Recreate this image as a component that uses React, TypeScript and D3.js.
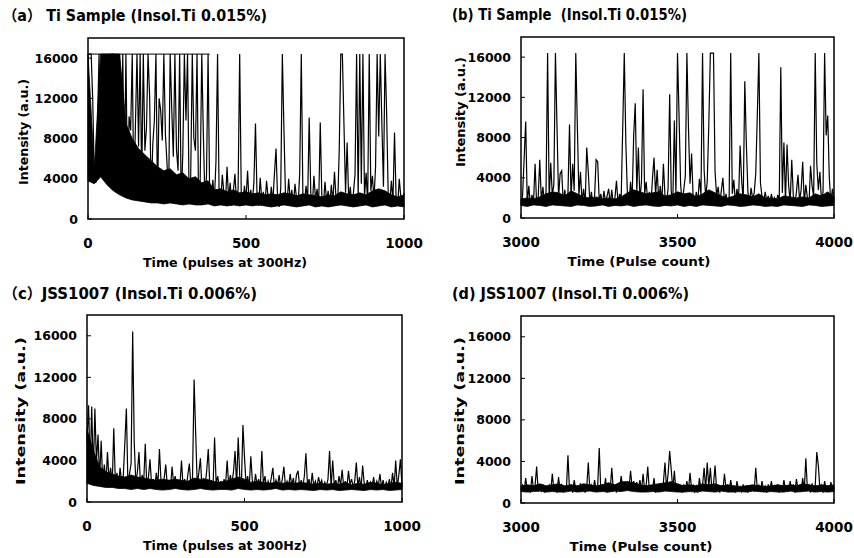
import React from "react";
import * as d3 from "d3";

// ---------- data (intensity, a.u.) sampled every 5 pulses ----------
const STEP = 5;
const aStart = 0;
const aValues = [
  16400, 16400, 16400, 11800, 4200, 3600, 9400, 16400, 5600, 16400, 4800, 16400, 3800, 16400, 5200, 16400, 16400, 2900, 16400, 3400,
  16400, 2700, 16400, 3900, 16400, 2500, 10200, 8800, 16400, 2200, 9200, 16400, 7200, 16400, 3600, 16400, 6800, 9000, 16400, 12200,
  2000, 7400, 9800, 16400, 1800, 12000, 10800, 7800, 16400, 8400, 5600, 1700, 16400, 11000, 6200, 16400, 6900, 4800, 16400, 1600,
  6500, 16400, 9800, 16400, 1900, 4200, 16400, 8000, 6800, 16400, 1600, 3800, 16400, 8500, 1900, 4300, 16400, 2400, 1500, 3900,
  1800, 5800, 16400, 2100, 1400, 4400, 2600, 1500, 5200, 2000, 3600, 1300, 2800, 4500, 1600, 3000, 16400, 2400, 1400, 3300,
  1900, 4800, 1500, 2900, 1700, 3600, 9500, 2200, 1300, 4100, 1800, 2700, 1400, 3800, 2100, 1300, 3200, 1700, 4500, 7000,
  2000, 1200, 3100, 16400, 9000, 2300, 1500, 4000, 1800, 2900, 1300, 3500, 2000, 1400, 4600, 16400, 2300, 1500, 3300, 1800,
  10100, 2600, 1400, 4300, 1900, 3000, 1300, 9600, 2200, 1500, 3700, 1800, 2800, 1200, 3400, 1700, 4700, 2000, 1400, 6800,
  16400, 16400, 9400, 2600, 7600, 1800, 3200, 1300, 2600, 4400, 16400, 2100, 16400, 3500, 16400, 2200, 4600, 1600, 16400, 2800,
  4300, 1900, 5200, 16400, 8200, 16400, 9400, 3200, 16400, 10600, 2400, 1500, 3800, 1700, 8600, 2100, 1300, 4000, 2200, 1400, 2600,
];
const bStart = 3000;
const bValues = [
  1300, 2200, 5900, 9600, 1400, 3200, 1200, 2300, 1500, 5400, 1300, 2100, 5800, 1700, 3100, 1400, 2600, 16400, 1800, 5500,
  2300, 3300, 16400, 9100, 2000, 4400, 4700, 1500, 2800, 1200, 2400, 9300, 2000, 5400, 2700, 16400, 9200, 2200, 4600, 1600,
  2900, 1300, 7000, 4600, 1500, 2600, 1200, 2100, 5800, 5600, 1700, 2400, 1300, 2700, 1500, 2200, 2900, 1400, 2800, 1300,
  2000, 3700, 1500, 2400, 1900, 9000, 16400, 7400, 2300, 1400, 3600, 1800, 8200, 11400, 2600, 7000, 1600, 3700, 12800, 2400,
  3600, 1500, 2600, 1300, 3900, 6000, 2300, 4800, 1700, 3200, 1500, 5400, 2200, 1300, 3000, 12300, 2600, 1500, 9700, 2300,
  16400, 10100, 3300, 1500, 2800, 4200, 16400, 9000, 3400, 6400, 2000, 1400, 2600, 1600, 3900, 2300, 16400, 4800, 2100, 3600,
  9300, 16400, 16400, 16400, 4600, 2200, 3100, 1500, 2700, 4000, 1600, 2400, 1300, 2000, 16400, 2400, 3800, 1500, 2900, 1700,
  7200, 3700, 1800, 13600, 7300, 2600, 1400, 3000, 1900, 2500, 4400, 10300, 16400, 3500, 2100, 1400, 2600, 1700, 2200, 1300,
  2400, 1600, 2000, 1200, 2300, 1800, 15000, 2500, 7500, 1600, 7300, 3300, 1500, 5800, 2200, 1400, 2600, 4300, 1700, 2800,
  5600, 1500, 3300, 2000, 1300, 5200, 3200, 2100, 16400, 5400, 2800, 4600, 1600, 2600, 16400, 8200, 10200, 4000, 1500, 2900, 1800,
];
const cStart = 0;
const cValues = [
  5800, 9300, 3200, 9200, 2600, 9000, 3800, 6500, 2200, 5900, 1900, 3600, 1700, 4800, 2100, 3300, 1600, 7100, 1800, 2800,
  1500, 3300, 1900, 2400, 5600, 9000, 1600, 2700, 3700, 16400, 5700, 1800, 2900, 4800, 1500, 2600, 1900, 5600, 1400, 2400,
  4100, 1700, 2200, 1300, 2800, 1600, 5100, 1900, 1400, 2300, 3600, 1500, 2100, 1300, 3400, 1800, 2500, 1400, 2000, 1600,
  4000, 1500, 2200, 1300, 2600, 3700, 1500, 2400, 11800, 6600, 1700, 2800, 4200, 1400, 2300, 1600, 3000, 5100, 1500, 2100,
  1300, 6200, 1800, 2500, 1400, 2000, 1300, 2200, 1700, 4000, 1500, 2600, 1800, 2900, 4900, 1600, 6200, 2400, 1500, 7400,
  4300, 1700, 2500, 1400, 4400, 2000, 1300, 2700, 1600, 2200, 1400, 4900, 1700, 2500, 1300, 2000, 1500, 2300, 3300, 1400,
  2100, 1600, 2600, 1300, 2200, 3400, 1500, 2000, 1400, 2700, 1600, 2300, 1300, 2600, 3000, 1500, 2100, 1400, 2500, 4700,
  1600, 2200, 1300, 2800, 1500, 2000, 1400, 2400, 1700, 2100, 1300, 1900, 1500, 2200, 4900, 1400, 4000, 1600, 2100, 1300,
  2500, 1600, 3100, 1400, 2000, 1300, 3000, 1700, 2200, 1400, 2000, 3800, 1500, 2400, 1300, 3500, 1800, 1400, 2100, 1300,
  1900, 1500, 2400, 1300, 2000, 1600, 2700, 1400, 2100, 1300, 1900, 1500, 2200, 1300, 2800, 1500, 4000, 1400, 2600, 4100, 1500,
];
const dStart = 3000;
const dValues = [
  1300, 1700, 1100, 2400, 1200, 1600, 1000, 2600, 1300, 1700, 3500, 1100, 1600, 1200, 1800, 1000, 1500, 1200, 1700, 1100,
  2800, 1300, 1600, 1000, 2500, 1200, 1700, 1100, 1500, 1300, 4600, 1200, 1800, 1000, 2200, 1300, 1600, 1100, 1900, 1200,
  1700, 1000, 1500, 3900, 1200, 1700, 1100, 2200, 1300, 1600, 5300, 1100, 1800, 1200, 2400, 1000, 1700, 1300, 3400, 1200,
  1500, 1000, 1800, 1300, 2600, 1500, 2000, 1300, 2100, 1400, 3100, 1500, 2100, 1300, 2000, 1400, 2200, 1200, 2800, 1300,
  1700, 3500, 1100, 1600, 1200, 2400, 1000, 1700, 1300, 1900, 1100, 2000, 3900, 1400, 2800, 5000, 3200, 1300, 3100, 1100,
  1700, 1200, 1500, 1000, 1800, 1300, 2100, 1200, 2900, 1400, 1700, 1100, 1600, 1000, 2400, 1200, 1700, 3400, 1300, 3900,
  1500, 3400, 1200, 1800, 3600, 1300, 1600, 1000, 1700, 1200, 2800, 1400, 1700, 1100, 2200, 1300, 1600, 1000, 2100, 1200,
  1500, 1100, 1800, 1300, 1600, 1000, 1700, 1200, 1500, 1100, 3400, 1300, 1700, 1100, 2100, 1200, 1600, 1000, 1800, 1300,
  2100, 1100, 1600, 1300, 1800, 1000, 1700, 1200, 2200, 1300, 1600, 1100, 2100, 1200, 1800, 1000, 2300, 1300, 1600, 1100,
  2400, 1200, 4300, 1300, 1700, 1000, 1900, 1200, 1600, 4900, 3600, 1300, 1700, 1000, 2100, 1200, 1600, 1100, 2000, 1300, 1600,
];

// ---------- dense-noise band of each trace: lower and upper edge, every 20 pulses ----------
const ENV_STEP = 20;
const aBandLow = [
  3800, 3500, 4200, 3400, 2800, 2400, 2100, 1900, 1800, 1700, 1600, 1600, 1500, 1600, 1500, 1400, 1500, 1400, 1400, 1500,
  1300, 1400, 1300, 1400, 1300, 1400, 1300, 1400, 1300, 1200, 1300, 1400, 1300, 1200, 1300, 1400, 1200, 1300, 1200, 1300,
  1400, 1300, 1200, 1300, 1400, 1200, 1300, 1400, 1200, 1300, 1200,
];
const aBandHigh = [
  16400, 5000, 16400, 16400, 16400, 16400, 9500, 8000, 7000, 6400, 5800, 5200, 4800, 5000, 4400, 4600, 4000, 4200, 3600, 3800,
  2900, 3000, 2700, 2900, 2600, 2700, 2500, 2600, 2400, 2500, 2400, 2600, 2500, 2300, 2500, 2400, 2300, 2200, 2400, 2300,
  2700, 2500, 2400, 2600, 2400, 2800, 3000, 2800, 2400, 2200, 2400,
];
const bBandLow = [
  1250, 1150, 1300, 1250, 1150, 1300, 1250, 1200, 1150, 1300, 1250, 1150, 1200, 1300, 1150, 1250, 1200, 1300, 1150, 1250,
  1300, 1200, 1150, 1250, 1200, 1300, 1150, 1250, 1150, 1300, 1250, 1200, 1150, 1300, 1250, 1150, 1200, 1300, 1250, 1150,
  1200, 1150, 1300, 1250, 1200, 1150, 1300, 1250, 1150, 1200, 1250,
];
const bBandHigh = [
  1900, 2000, 1900, 2100, 2400, 2600, 2500, 2200, 2700, 2400, 2100, 2000, 2100, 1900, 2000, 1900, 2100, 2500, 2800, 2600,
  2400, 2500, 2600, 2200, 2300, 2600, 2400, 2500, 2100, 2400, 2800, 2500, 2200, 2000, 2200, 2400, 2300, 2100, 2400, 2000,
  2000, 1900, 2200, 2100, 2000, 2100, 2000, 2400, 2200, 2600, 2100,
];
const cBandLow = [
  1800, 1600, 1500, 1400, 1400, 1300, 1300, 1200, 1300, 1200, 1300, 1200, 1150, 1200, 1300, 1200, 1150, 1200, 1300, 1200,
  1150, 1200, 1200, 1150, 1300, 1200, 1150, 1200, 1150, 1200, 1300, 1150, 1200, 1150, 1200, 1150, 1100, 1200, 1150, 1200,
  1100, 1150, 1200, 1150, 1100, 1200, 1150, 1200, 1100, 1150, 1200,
];
const cBandHigh = [
  7000, 5000, 3400, 2900, 2700, 2500, 2400, 2600, 2400, 2300, 2200, 2100, 2200, 2100, 2200, 2100, 2000, 2300, 2200, 2200,
  2000, 1900, 2000, 2200, 2400, 2200, 1900, 2000, 1900, 1800, 1900, 1800, 1900, 1800, 1900, 1800, 1700, 1800, 1700, 1800,
  1700, 1900, 1650, 1800, 1700, 1900, 1800, 1650, 1800, 1900, 1800,
];
const dBandLow = [
  1100, 1050, 1100, 1150, 1050, 1100, 1050, 1050, 1150, 1050, 1100, 1150, 1050, 1100, 1050, 1150, 1100, 1200, 1100, 1050,
  1050, 1100, 1050, 1150, 1100, 1050, 1050, 1100, 1050, 1150, 1100, 1050, 1150, 1050, 1050, 1100, 1050, 1150, 1100, 1050,
  1100, 1050, 1050, 1150, 1050, 1100, 1150, 1050, 1100, 1050, 1100,
];
const dBandHigh = [
  1650, 1750, 1650, 1850, 1650, 1750, 1850, 1650, 1750, 1650, 1850, 1750, 1650, 1750, 1950, 1750, 2050, 2050, 1950, 1750,
  1650, 1750, 1850, 1950, 2050, 1850, 1650, 1750, 1650, 1850, 1750, 1850, 1650, 1750, 1650, 1600, 1650, 1750, 1650, 1600,
  1650, 1750, 1650, 1750, 1650, 1850, 1750, 1650, 1750, 1650, 1750,
];

// saturation ceiling of the detector and the stretch of panel (a) where it is drawn flat
const SATURATION = 16400;
const aSaturationSpan = [0, 385];

const yTicks = [0, 4000, 8000, 12000, 16000];
const xTicksPulses = [0, 500, 1000];
const xTicksCount = [3000, 3500, 4000];
const titles = [
  "（a） Ti Sample (Insol.Ti 0.015%)",
  "(b) Ti Sample  (Insol.Ti 0.015%)",
  "（c）JSS1007 (Insol.Ti 0.006%)",
  "(d) JSS1007 (Insol.Ti 0.006%)",
];
const yLabel = "Intensity (a.u.)";
const xLabelPulses = "Time (pulses at 300Hz)";
const xLabelCount = "Time (Pulse count)";

const FONT = "'DejaVu Sans', 'Noto Sans CJK JP', sans-serif";

type PanelCfg = {
  values: number[];
  low: number[];
  high: number[];
  start: number;
  domain: [number, number];
  xTicks: number[];
  title: string;
  xLabel: string;
  box: { x0: number; x1: number; top: number; bot: number };
  titlePos: { x: number; y: number; len: number };
  yLab: { x: number; y: number; len: number; size: number };
  xLab: { x: number; len: number };
  sat?: number[];
};

const panels: PanelCfg[] = [
  {
    values: aValues, low: aBandLow, high: aBandHigh, start: aStart, domain: [0, 1000], xTicks: xTicksPulses,
    title: titles[0], xLabel: xLabelPulses,
    box: { x0: 88, x1: 404, top: 38, bot: 219 },
    titlePos: { x: 3, y: 21, len: 264 },
    yLab: { x: 23, y: 132, len: 106, size: 12.5 },
    xLab: { x: 225, len: 164 },
    sat: aSaturationSpan,
  },
  {
    values: bValues, low: bBandLow, high: bBandHigh, start: bStart, domain: [3000, 4000], xTicks: xTicksCount,
    title: titles[1], xLabel: xLabelCount,
    box: { x0: 521, x1: 834, top: 37, bot: 218 },
    titlePos: { x: 452, y: 20, len: 235 },
    yLab: { x: 460, y: 112, len: 110, size: 12.5 },
    xLab: { x: 639, len: 143 },
  },
  {
    values: cValues, low: cBandLow, high: cBandHigh, start: cStart, domain: [0, 1000], xTicks: xTicksPulses,
    title: titles[2], xLabel: xLabelPulses,
    box: { x0: 87, x1: 402, top: 315, bot: 502 },
    titlePos: { x: 3, y: 299, len: 254 },
    yLab: { x: 21, y: 411, len: 148, size: 12 },
    xLab: { x: 225, len: 164 },
  },
  {
    values: dValues, low: dBandLow, high: dBandHigh, start: dStart, domain: [3000, 4000], xTicks: xTicksCount,
    title: titles[3], xLabel: xLabelCount,
    box: { x0: 521, x1: 834, top: 316, bot: 503 },
    titlePos: { x: 452, y: 299, len: 237 },
    yLab: { x: 460, y: 411, len: 148, size: 12 },
    xLab: { x: 641, len: 143 },
  },
];

function Panel({ p }: { p: PanelCfg }) {
  const { box } = p;
  const x = d3.scaleLinear().domain(p.domain).range([box.x0, box.x1]);
  const y = d3.scaleLinear().domain([0, 18000]).range([box.bot, box.top]);
  const line = d3
    .line<number>()
    .x((_, i) => x(p.start + i * STEP))
    .y((d) => y(d));
  const band = d3
    .area<number>()
    .x((_, i) => x(p.start + i * ENV_STEP))
    .y0((_, i) => y(p.low[i]))
    .y1((d) => y(d));
  const path = line(p.values) || "";
  const bandPath = band(p.high) || "";
  return (
    <g fontFamily={FONT} fontWeight="bold" fill="#000">
      <text x={p.titlePos.x} y={p.titlePos.y} fontSize={15} textLength={p.titlePos.len}
        lengthAdjust="spacingAndGlyphs" style={{ whiteSpace: "pre" }}>{p.title}</text>
      <path d={bandPath} fill="#000" stroke="#000" strokeWidth={0.8} />
      <path d={path} fill="none" stroke="#000" strokeWidth={1.2} strokeLinejoin="miter" />
      {p.sat && (
        <line x1={x(p.sat[0])} x2={x(p.sat[1])} y1={y(SATURATION)} y2={y(SATURATION)} stroke="#000" strokeWidth={1} />
      )}
      <rect x={box.x0} y={box.top} width={box.x1 - box.x0} height={box.bot - box.top}
        fill="none" stroke="#000" strokeWidth={1.5} />
      {yTicks.map((t) => (
        <g key={t}>
          <line x1={box.x0} x2={box.x0 + 4} y1={y(t)} y2={y(t)} stroke="#000" strokeWidth={1} />
          <text x={box.x0 - 10} y={y(t)} dy="0.36em" fontSize={12.5} textAnchor="end">{t}</text>
        </g>
      ))}
      {p.xTicks.map((t) => (
        <g key={t}>
          <line x1={x(t)} x2={x(t)} y1={box.bot} y2={box.bot - 4} stroke="#000" strokeWidth={1} />
          <text x={x(t)} y={box.bot + 29} fontSize={13.5} textAnchor="middle">{t}</text>
        </g>
      ))}
      <text x={p.xLab.x} y={box.bot + 48} fontSize={13} textAnchor="middle" textLength={p.xLab.len}
        lengthAdjust="spacingAndGlyphs">{p.xLabel}</text>
      <text transform={`translate(${p.yLab.x},${p.yLab.y}) rotate(-90)`} dy="0.36em" fontSize={p.yLab.size}
        textAnchor="middle" textLength={p.yLab.len} lengthAdjust="spacingAndGlyphs">{yLabel}</text>
    </g>
  );
}

export default function App() {
  return (
    <svg width={854} height={558} viewBox="0 0 854 558"
      style={{ position: "absolute", left: 0, top: 0, background: "#fff" }}>
      <rect x={0} y={0} width={854} height={558} fill="#fff" />
      {panels.map((p, i) => (
        <Panel key={i} p={p} />
      ))}
    </svg>
  );
}
